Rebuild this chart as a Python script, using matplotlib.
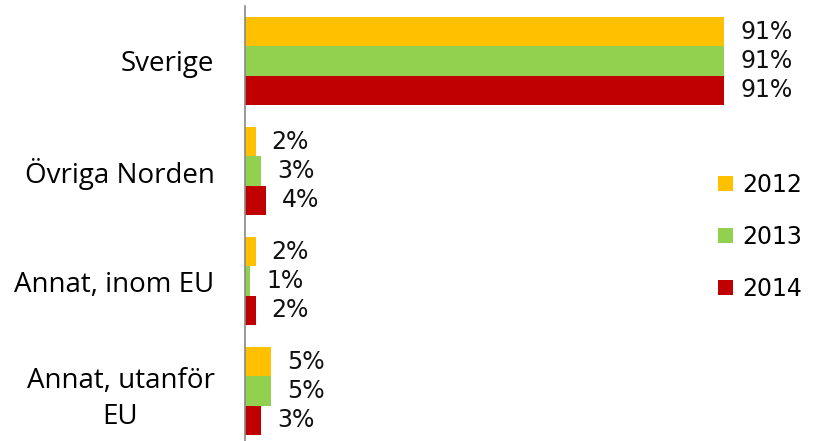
import matplotlib.pyplot as plt
import numpy as np

categories = ["Sverige", "Övriga Norden", "Annat, inom EU", "Annat, utanför\nEU"]
years = ["2012", "2013", "2014"]
values_2012 = [91, 2, 2, 5]
values_2013 = [91, 3, 1, 5]
values_2014 = [91, 4, 2, 3]

COLORS = ["#FFC000", "#92D050", "#C00000"]
LABEL_FONT = "Open Sans"
NUM_FONT = "DejaVu Sans"


def main() -> None:
    fig = plt.figure(figsize=(8.19, 4.41), dpi=100)
    ax = fig.add_axes([245 / 819, -5 / 441, 574 / 819, 440 / 441])

    series = [values_2012, values_2013, values_2014]
    y = np.arange(len(categories))
    bar_h = 0.264
    for i, (vals, year, color) in enumerate(zip(series, years, COLORS)):
        pos = y + (i - 1) * bar_h
        bars = ax.barh(pos, vals, height=bar_h, color=color, label=year)
        for rect, v in zip(bars, vals):
            ax.annotate(
                f"{v}%",
                xy=(rect.get_width(), rect.get_y() + rect.get_height() / 2),
                xytext=(11.5, 0),
                textcoords="offset points",
                va="center",
                ha="left",
                fontsize=17,
                family=NUM_FONT,
                color="#111111",
            )

    ax.set_xlim(0, 109)
    ax.set_ylim(len(categories) - 0.5, -0.5)
    ax.set_yticks(y)
    ax.set_yticklabels(categories, fontsize=20, family=LABEL_FONT,
                       ha="right", multialignment="center", linespacing=1.4)
    ax.tick_params(axis="y", length=0, pad=22)
    ax.set_xticks([])
    for side in ["top", "right", "bottom"]:
        ax.spines[side].set_visible(False)
    ax.spines["left"].set_color("#888888")
    ax.spines["left"].set_linewidth(1.2)

    ax.legend(
        loc="center left",
        bbox_to_anchor=(718 / 819, 204 / 441),
        bbox_transform=fig.transFigure,
        frameon=False,
        prop={"family": NUM_FONT, "size": 17},
        handlelength=0.62,
        handleheight=0.62,
        handletextpad=0.4,
        labelspacing=1.18,
        borderaxespad=0,
        borderpad=0,
    )

    fig.savefig("out.png", dpi=100)
    plt.close(fig)


if __name__ == "__main__":
    main()
